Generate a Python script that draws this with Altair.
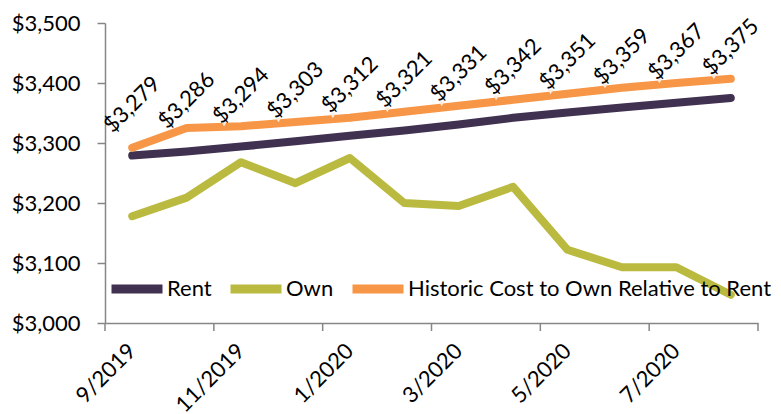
import altair as alt
import pandas as pd

months = ["9/2019", "10/2019", "11/2019", "12/2019", "1/2020", "2/2020",
          "3/2020", "4/2020", "5/2020", "6/2020", "7/2020", "8/2020"]
rent = [3279, 3286, 3294, 3303, 3312, 3321, 3331, 3342, 3351, 3359, 3367, 3375]
own = [3178, 3209, 3268, 3233, 3275, 3200, 3195, 3227, 3122, 3093, 3093, 3047]
historic = [3292, 3325, 3328, 3335, 3342, 3352, 3362, 3372, 3382, 3392, 3400, 3407]
series_names = ["Rent", "Own", "Historic Cost to Own Relative to Rent"]
series_colors = ["#403151", "#BBBA40", "#F79646"]
label_months = ["9/2019", "11/2019", "1/2020", "3/2020", "5/2020", "7/2020"]
y_ticks = [3000, 3100, 3200, 3300, 3400, 3500]

FONT = "Lato"
W, H = 653, 300

rows = []
for name, vals in zip(series_names, [rent, own, historic]):
    for m, v in zip(months, vals):
        rows.append({"month": m, "series": name, "value": v})
long_df = pd.DataFrame(rows)
rent_df = pd.DataFrame({"month": months, "rent": rent})
hist_df = pd.DataFrame({"month": months[1:], "hist": historic[1:]})
tick_start_df = pd.DataFrame({"month": label_months})
tick_end_df = pd.DataFrame({"month": [months[-1]]})

xscale = alt.Scale(type="band", domain=months, paddingInner=0, paddingOuter=0)


def xenc(band=0.5, axis=None):
    if axis is None:
        return alt.X("month:N", sort=months, scale=xscale, bandPosition=band, title=None)
    return alt.X("month:N", sort=months, scale=xscale, bandPosition=band,
                 axis=axis, title=None)


x_axis = alt.Axis(values=label_months, ticks=False, labelAngle=-45,
                  labelAlign="right", labelBaseline="middle", labelPadding=24,
                  labelFont=FONT, labelFontSize=22, labelColor="#000000",
                  domainColor="#868686", domainWidth=1.5, grid=False, title=None)
y_axis = alt.Axis(values=y_ticks, format="$,.0f", tickSize=8, tickColor="#868686",
                  tickWidth=1.5, domainColor="#868686", domainWidth=1.5,
                  labelPadding=17, labelFont=FONT, labelFontSize=22,
                  labelColor="#000000", grid=False, title=None)
yscale = alt.Scale(domain=[3000, 3500], nice=False, zero=False)

lines = alt.Chart(long_df).mark_line(
    strokeWidth=8, strokeCap="round", strokeJoin="round"
).encode(
    x=xenc(0.5, x_axis),
    y=alt.Y("value:Q", scale=yscale, axis=y_axis),
    color=alt.Color(
        "series:N",
        scale=alt.Scale(domain=series_names, range=series_colors),
        sort=series_names,
        legend=alt.Legend(
            orient="none", legendX=2, legendY=236, direction="horizontal",
            title=None, symbolType="stroke", symbolSize=2601,
            symbolStrokeWidth=9, labelFont=FONT, labelFontSize=22,
            labelColor="#000000", labelOffset=0, columnPadding=0,
            labelLimit=500,
        ),
    ),
)

tri = alt.Chart(hist_df).mark_point(
    shape="triangle-down", filled=True, color="#FDEBDD", opacity=1,
    size=30, xOffset=-17, yOffset=-2
).encode(x=xenc(0.5), y=alt.Y("hist:Q", scale=yscale))

labels = alt.Chart(rent_df).mark_text(
    angle=315, align="center", baseline="middle", yOffset=-51,
    font=FONT, fontSize=22, color="#000000"
).encode(
    x=xenc(0.5),
    y=alt.Y("rent:Q", scale=yscale),
    text=alt.Text("rent:Q", format="$,.0f"),
)

ticks_start = alt.Chart(tick_start_df).mark_rule(color="#868686", strokeWidth=1.5).encode(
    x=xenc(0), y=alt.value(H), y2=alt.value(H + 8))
ticks_end = alt.Chart(tick_end_df).mark_rule(color="#868686", strokeWidth=1.5).encode(
    x=xenc(1), y=alt.value(H), y2=alt.value(H + 8))

chart = alt.layer(lines, tri, labels, ticks_start, ticks_end).properties(
    width=W, height=H,
    autosize=alt.AutoSizeParams(type="none"),
    padding={"left": 97, "top": 15, "right": 15, "bottom": 110},
    background="white",
).configure_view(stroke=None)

chart.save("out.html", embed_options={"renderer": "svg", "actions": False})
